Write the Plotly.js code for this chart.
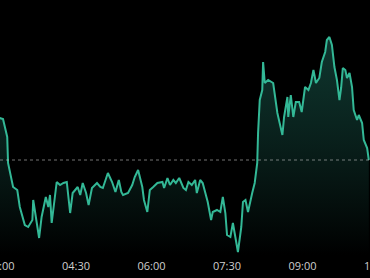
<!DOCTYPE html>
<html>
<head>
<meta charset="utf-8">
<script src="https://cdn.plot.ly/plotly-3.0.1.min.js"></script>
<style>
html,body{margin:0;padding:0;background:#000;overflow:hidden;width:370px;height:278px;}
#chart{width:384px;height:278px;}
</style>
</head>
<body>
<div id="chart"></div>
<script>
// minutes since 03:00
const minutes = [-1,3,8,9,15,20,23,29,33,38,39,42,46,49,51,54,57,59,61,65,67,71,75,79,83,86,92,95,98,102,105,109,115,119,122,128,133,137,141,144,146,152,157,160,164,169,171,175,178,182,187,193,195,199,202,206,209,213,218,221,224,228,232,234,238,241,245,247,251,253,258,262,265,268,270,274,277,280,283,287,289,292,295,300,303,306,307,309,312,313,315,319,324,325,330,332,336,338,342,343,346,349,352,356,359,363,367,370,373,376,380,383,387,389,392,395,398,401,404,406,408,411,413,416,419,421,425,427,431,433,437,439];
const values = [23.2,23.1,21.3,18.7,16.3,16.0,14.3,12.5,12.3,13.0,15.0,13.3,11.2,13.3,14.0,15.3,14.3,15.5,12.7,15.3,16.8,16.5,16.7,16.8,13.7,15.7,16.3,15.5,16.7,15.7,14.5,16.2,16.7,16.3,16.2,17.7,16.8,15.8,17.0,15.8,15.5,15.7,16.5,17.3,18.0,16.3,15.0,13.8,16.0,16.3,16.7,16.8,16.2,17.2,16.5,17.0,16.7,17.2,16.2,16.0,16.8,16.5,17.0,15.7,17.0,16.7,15.3,14.8,13.0,13.8,14.0,13.8,15.3,13.7,11.5,11.3,12.7,11.3,9.8,12.3,14.8,15.0,13.8,15.7,16.7,18.7,21.7,25.0,26.0,28.8,26.7,27.0,26.8,26.7,23.7,23.0,21.5,23.3,25.3,23.3,25.5,23.3,24.8,24.8,23.8,26.3,26.0,26.7,28.0,26.7,27.2,28.8,29.8,31.0,31.3,30.5,28.3,27.0,25.0,26.2,28.2,28.0,27.2,27.7,26.3,24.0,23.0,23.5,22.7,21.0,20.2,19.0];
const refValue = 19.0;
const tickVals = [0,90,180,270,360,450];
const tickLabels = ["03:00","04:30","06:00","07:30","09:00","10:30"];

const trace = {
  x: minutes, y: values, type: 'scatter', mode: 'lines',
  line: {color: '#33b896', width: 2, shape: 'linear'},
  fill: 'tozeroy',
  fillgradient: {type: 'vertical', start: 9.5, stop: 33,
    colorscale: [[0, 'rgba(0,0,0,1)'], [1, 'rgba(20,72,62,0.8)']]},
  hoverinfo: 'skip'
};

const layout = {
  width: 384, height: 278,
  margin: {l: 0, r: 0, t: 0, b: 23},
  paper_bgcolor: '#000', plot_bgcolor: '#000',
  showlegend: false,
  xaxis: {range: [-0.6, 457.1], tickvals: tickVals, ticktext: tickLabels,
    showgrid: false, zeroline: false, showline: false, ticks: '',
    ticklabeloverflow: 'allow', ticklabelstandoff: 3,
    tickfont: {family: 'Open Sans, sans-serif', size: 11, color: '#cfcfcf'}, fixedrange: true},
  yaxis: {range: [9.5, 35], showgrid: false, zeroline: false, showticklabels: false, showline: false, fixedrange: true},
  shapes: [{type: 'line', xref: 'paper', x0: 0, x1: 1, yref: 'y', y0: refValue, y1: refValue,
    line: {color: 'rgba(190,190,190,0.6)', width: 1, dash: 'dot'}}]
};

Plotly.newPlot('chart', [trace], layout, {displayModeBar: false, staticPlot: true});
</script>
</body>
</html>
